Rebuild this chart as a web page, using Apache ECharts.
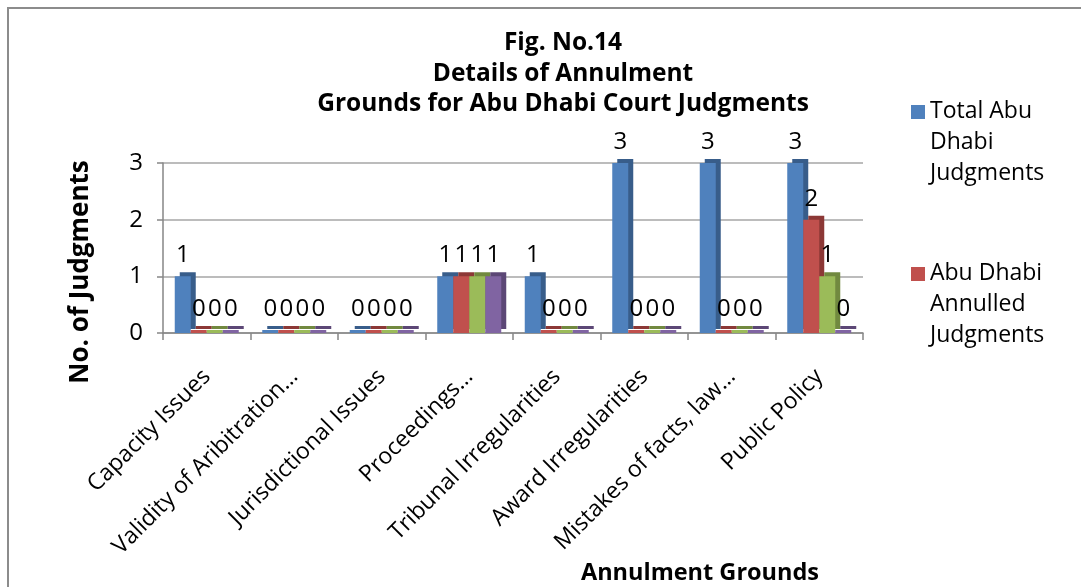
<!DOCTYPE html>
<html>
<head>
<meta charset="utf-8">
<script src="https://cdn.jsdelivr.net/npm/echarts@6/dist/echarts.min.js"></script>
<style>
html,body{margin:0;padding:0;background:#fff;}
#chart{width:1081px;height:587px;}
</style>
</head>
<body>
<div id="chart"></div>
<script>
const categories = ['Capacity Issues', 'Validity of Aribitration…', 'Jurisdictional Issues', 'Proceedings…', 'Tribunal Irregularities', 'Award Irregularities', 'Mistakes of facts, law…', 'Public Policy'];
const totalJudgments = [1, 0, 0, 1, 1, 3, 3, 3];
const annulledJudgments = [0, 0, 0, 1, 0, 0, 0, 2];
const series3Values = [0, 0, 0, 1, 0, 0, 0, 1];
const series4Values = [0, 0, 0, 1, 0, 0, 0, 0];
const yTicks = [0, 1, 2, 3];
const seriesNames = ['Total Abu Dhabi Judgments', 'Abu Dhabi Annulled Judgments', 'Series3', 'Series4'];
const legendLabels = {
  'Total Abu Dhabi Judgments': 'Total Abu\nDhabi\nJudgments',
  'Abu Dhabi Annulled Judgments': 'Abu Dhabi\nAnnulled\nJudgments'
};

const FONT = 'Open Sans';
const colors = ['#4F81BD', '#C0504D', '#9BBB59', '#8064A2'];
const sides = ['#385D8A', '#8C3836', '#71893F', '#5C4776'];
const values = [totalJudgments, annulledJudgments, series3Values, series4Values];

const chart = echarts.init(document.getElementById('chart'), null, {renderer: 'canvas'});

const series = values.map((v, i) => ({
  name: seriesNames[i],
  type: 'bar',
  data: v,
  barWidth: 16,
  barGap: '0%',
  barMinHeight: 3,
  itemStyle: {
    color: colors[i],
    shadowColor: sides[i],
    shadowBlur: 0,
    shadowOffsetX: 5,
    shadowOffsetY: -4
  },
  label: {
    show: true,
    position: 'top',
    distance: 9,
    fontFamily: FONT,
    fontSize: 24,
    color: '#000'
  }
}));

chart.setOption({
  animation: false,
  backgroundColor: '#fff',
  textStyle: {fontFamily: FONT},
  title: {
    text: 'Fig. No.14\nDetails of Annulment\nGrounds for Abu Dhabi Court Judgments',
    left: 558,
    textAlign: 'center',
    top: 23,
    textStyle: {fontFamily: FONT, fontWeight: 'bold', fontSize: 24.5, lineHeight: 30.5, color: '#000'}
  },
  graphic: [{
    type: 'rect',
    shape: {x: 8, y: 8, width: 1200, height: 700},
    style: {fill: null, stroke: '#8c8c8c', lineWidth: 2},
    silent: true
  }],
  legend: {
    data: seriesNames.slice(0, 2),
    orient: 'vertical',
    left: 906,
    top: 91,
    itemWidth: 14,
    itemHeight: 93,
    itemGap: 69,
    icon: 'path://M0,9L14,9L14,23L0,23Z M0,0L0.01,0Z M0,93L0.01,93Z',
    formatter: n => legendLabels[n] || n,
    textStyle: {fontFamily: FONT, fontSize: 23, lineHeight: 31, color: '#000'},
    itemStyle: {borderWidth: 0, shadowBlur: 0, shadowOffsetX: 0, shadowOffsetY: 0}
  },
  grid: {left: 163, right: 218, top: 163, bottom: 254},
  xAxis: {
    type: 'category',
    data: categories,
    name: 'Annulment Grounds',
    nameLocation: 'middle',
    nameGap: 222,
    nameTextStyle: {fontFamily: FONT, fontWeight: 'bold', fontSize: 23.5, color: '#000', padding: [0, 0, 0, 374]},
    axisLine: {lineStyle: {color: '#868686', width: 1.5}},
    axisTick: {show: true, alignWithLabel: false, length: 7, lineStyle: {color: '#868686', width: 1.5}},
    axisLabel: {interval: 0, rotate: 45, margin: 40, fontFamily: FONT, fontSize: 23, color: '#000'}
  },
  yAxis: {
    type: 'value',
    min: 0,
    max: 3,
    interval: 1,
    name: 'No. of Judgments',
    nameLocation: 'middle',
    nameGap: 69,
    nameTextStyle: {fontFamily: FONT, fontWeight: 'bold', fontSize: 26, color: '#000', padding: [0, 48, 0, 0]},
    axisLine: {show: true, lineStyle: {color: '#868686', width: 1.5}},
    axisTick: {show: true, length: 6, lineStyle: {color: '#868686', width: 1.5}},
    axisLabel: {margin: 20, fontFamily: FONT, fontSize: 24, color: '#000', formatter: v => yTicks.includes(v) ? String(v) : ''},
    splitLine: {show: true, lineStyle: {color: '#a6a6a6', width: 1.5}}
  },
  series: series
});
</script>
</body>
</html>
